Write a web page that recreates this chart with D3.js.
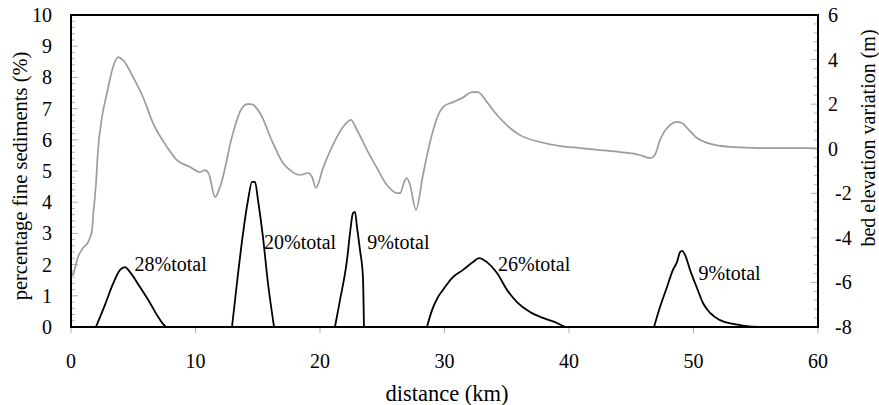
<!DOCTYPE html>
<html><head><meta charset="utf-8">
<script src="https://cdn.jsdelivr.net/npm/d3@7"></script>
<style>
html,body{margin:0;padding:0;background:#fff;}
</style></head>
<body><svg id="c" width="879" height="405"></svg>
<script>
// ---- data ----
const xTicks = [0,10,20,30,40,50,60];
const leftTicks = [0,1,2,3,4,5,6,7,8,9,10];
const rightTicks = [-8,-6,-4,-2,0,2,4,6];

// bed elevation variation (m) vs distance (km)
const elevDist = [0,0.16,0.32,0.56,0.96,1.37,1.69,1.77,2.01,2.17,2.49,2.89,3.37,3.78,4.18,4.98,5.78,6.59,7.71,8.51,9.56,10.36,10.76,11.08,11.57,11.97,13.01,13.57,14.14,14.5,15.18,16.22,17.03,17.59,18.39,19.04,19.36,19.68,20.24,21.04,21.85,22.49,22.97,23.78,24.58,25.38,26.18,26.43,26.83,26.99,27.23,27.71,28.27,28.84,29.4,29.88,30.68,31.41,32.21,32.69,33.41,34.22,35.26,36.06,37.67,39.28,40.88,42.49,44.1,45.7,46.5,46.9,47.31,48.11,48.67,49.08,49.48,50.28,51.08,52.93,55.34,59.6,60];
const elevVal = [-5.44,-5.67,-5.35,-4.86,-4.46,-4.19,-3.65,-3.07,-1.54,-0.06,1.42,2.5,3.66,4.11,3.98,3.22,2.32,1.15,0.08,-0.51,-0.82,-1.05,-0.96,-1.14,-2.17,-1.72,0.7,1.65,2.0,2.0,1.6,0.25,-0.64,-0.96,-1.18,-1.09,-1.27,-1.76,-0.87,0.17,0.97,1.29,0.84,-0.06,-0.87,-1.63,-1.99,-1.99,-1.4,-1.32,-1.63,-2.75,-1.18,0.3,1.38,1.87,2.09,2.27,2.54,2.54,2.09,1.51,0.93,0.61,0.3,0.12,0.03,-0.06,-0.15,-0.28,-0.42,-0.28,0.39,1.06,1.2,1.15,0.93,0.48,0.26,0.08,0.03,0.03,0.0];

// percentage fine sediments (%) — five deposits
const sed1Dist = [2.0,2.73,3.37,3.94,4.34,4.74,5.54,6.35,6.91,7.39,7.63];
const sed1Pct  = [0,0.71,1.38,1.83,1.92,1.76,1.28,0.77,0.38,0.1,0];
const sed2Dist = [12.93,13.33,13.82,14.22,14.54,14.78,15.02,15.42,15.82,16.31];
const sed2Pct  = [0,1.41,3.01,4.07,4.65,4.65,4.07,2.88,1.41,0];
const sed3Dist = [21.2,21.61,22.17,22.41,22.65,22.81,22.97,23.21,23.45,23.53];
const sed3Pct  = [0,0.87,2.15,3.01,3.65,3.69,3.21,2.47,1.6,0];
const sed4Dist = [28.59,29.0,29.48,29.88,30.6,31.49,32.29,32.77,33.41,34.22,35.02,35.82,36.87,37.91,39.04,39.52,39.68];
const sed4Pct  = [0,0.54,0.96,1.19,1.57,1.83,2.08,2.21,2.08,1.73,1.19,0.8,0.48,0.29,0.13,0.03,0];
const sed5Dist = [46.83,47.31,47.87,48.35,48.67,48.92,49.08,49.32,49.72,50.28,50.76,51.33,52.13,53.17,54.3,55.18];
const sed5Pct  = [0,0.64,1.28,1.83,2.08,2.4,2.44,2.31,1.83,1.25,0.77,0.45,0.22,0.1,0.03,0];
const sedLabels = ["28%total","20%total","9%total","26%total","9%total"];
const sedLabelAt = [[5.1,1.78],[15.5,2.5],[23.8,2.5],[34.3,1.8],[50.4,1.5]]; // anchor (km, %)

// ---- layout ----
const FONT = "Liberation Serif";
const svg = d3.select("#c");
const L = 71, R = 818, T = 15, B = 327;
const x = d3.scaleLinear().domain([0,60]).range([L,R]);
const yL = d3.scaleLinear().domain([0,10]).range([B,T]);
const yR = d3.scaleLinear().domain([-8,6]).range([B,T]);

function txt(sz){ return svg.append("text").style("font-family",FONT).style("font-size",(sz||20)+"px").attr("fill","#000"); }

const tickCol = "#b0b0b0";
const g = svg.append("g");
d3.range(0,10.001,0.2).forEach(v=>{
  const major = Math.abs(v-Math.round(v))<1e-6;
  g.append("line").attr("x1",L).attr("x2",L+(major?7:4))
    .attr("y1",yL(v)).attr("y2",yL(v)).attr("stroke",tickCol).attr("stroke-width",1);
});
d3.range(-8,6.001,0.4).forEach(v=>{
  const major = Math.abs(v/2-Math.round(v/2))<1e-6;
  g.append("line").attr("x1",R).attr("x2",R-(major?7:4))
    .attr("y1",yR(v)).attr("y2",yR(v)).attr("stroke",tickCol).attr("stroke-width",1);
});
xTicks.forEach(v=>{
  g.append("line").attr("x1",x(v)).attr("x2",x(v)).attr("y1",B).attr("y2",B+6)
    .attr("stroke",tickCol).attr("stroke-width",1);
});

const elevData = elevDist.map((d,i)=>[d,elevVal[i]]);
svg.append("path").datum(elevData)
  .attr("d",d3.line().curve(d3.curveMonotoneX).x(d=>x(d[0])).y(d=>yR(d[1])))
  .attr("fill","none").attr("stroke","#9c9c9c").attr("stroke-width",1.7);

const seds = [[sed1Dist,sed1Pct],[sed2Dist,sed2Pct],[sed3Dist,sed3Pct],[sed4Dist,sed4Pct],[sed5Dist,sed5Pct]];
const lineL = d3.line().curve(d3.curveMonotoneX).x(d=>x(d[0])).y(d=>yL(d[1]));
seds.forEach(([ds,ps])=>{
  svg.append("path").datum(ds.map((d,i)=>[d,ps[i]]))
    .attr("d",lineL).attr("fill","none").attr("stroke","#000").attr("stroke-width",1.8)
    .attr("stroke-linejoin","round");
});

svg.append("rect").attr("x",L).attr("y",T).attr("width",R-L).attr("height",B-T)
  .attr("fill","none").attr("stroke","#000").attr("stroke-width",2);

leftTicks.forEach(v=>{ txt().attr("x",L-19).attr("y",yL(v)+7).attr("text-anchor","end").text(v); });
rightTicks.forEach(v=>{ txt().attr("x",v<0?R+17:R+10).attr("y",yR(v)+7).attr("text-anchor","start").text(v); });
xTicks.forEach(v=>{ txt().attr("x",x(v)).attr("y",368).attr("text-anchor","middle").text(v); });

sedLabels.forEach((s,i)=>{ txt().attr("x",x(sedLabelAt[i][0])).attr("y",yL(sedLabelAt[i][1])).text(s); });

txt(22.5).attr("x",447).attr("y",401).attr("text-anchor","middle").text("distance (km)");
txt(20.5).attr("transform","translate(27,176) rotate(-90)").attr("text-anchor","middle")
  .text("percentage fine sediments (%)");
txt().attr("transform","translate(875,138) rotate(-90)").attr("text-anchor","middle")
  .text("bed elevation variation (m)");
</script></body></html>
